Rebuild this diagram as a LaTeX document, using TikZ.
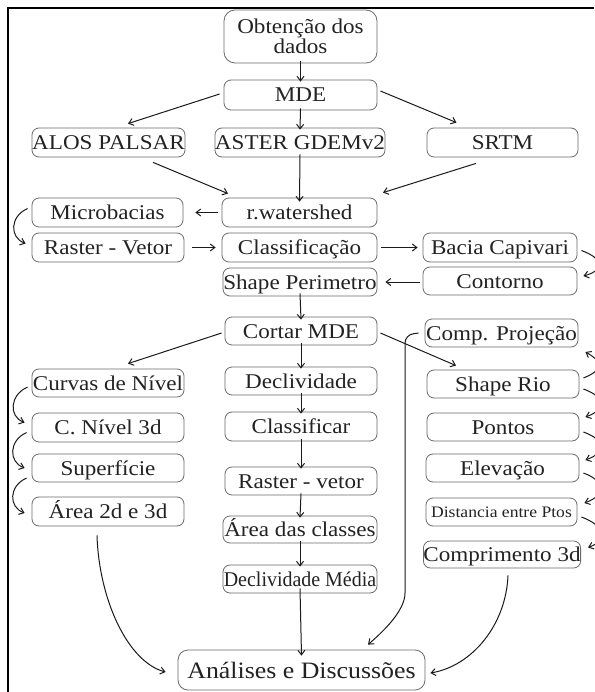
\documentclass[tikz,border=0pt]{standalone}
\usepackage{fontspec}
\setmainfont[FakeStretch=1.1]{Liberation Serif}
\newfontfamily\condfont[FakeStretch=0.95]{Liberation Serif}
\usetikzlibrary{arrows.meta}
\definecolor{boxc}{HTML}{6A6A6A}
\definecolor{txtc}{HTML}{222222}
\definecolor{arrc}{HTML}{1A1A1A}
\begin{document}
\begin{tikzpicture}[x=1pt,y=-1pt,
  box/.style={draw=boxc, line width=0.8pt, rounded corners=7pt, minimum width=153pt,
    minimum height=29pt, inner sep=0pt, text=txtc, font=\fontsize{21}{21}\selectfont,
    text height=14pt, text depth=0pt},
  arr/.style={draw=arrc, line width=1pt, -{Straight Barb[length=4.5pt,width=7pt]}},
]
\useasboundingbox (0,0) rectangle (594,692);
\draw[line width=1.6pt] (8,692) -- (8,8) -- (594,8);

\node[box, rounded corners=11pt, minimum height=53pt, text height=, text depth=, align=center,
  font=\fontsize{21}{18.5}\selectfont] (obt) at (300.5,36.5) {Obtenção dos\\dados};
\node[box, minimum height=30pt] (mde) at (300.5,95) {MDE};
\node[box, minimum width=154pt] (aster) at (300,142.5) {ASTER GDEMv2};
\node[box] (alos) at (108.5,142.5) {ALOS PALSAR};
\node[box, minimum width=151pt] (srtm) at (502.5,142.5) {SRTM};
\node[box, minimum width=155pt] (rws) at (299.5,212.5) {r.watershed};
\node[box, minimum width=151pt] (micro) at (107.5,212.5) {Microbacias};
\node[box, minimum width=152pt] (rv) at (108,247.5) {Raster - Vetor};
\node[box, minimum width=155pt] (class) at (299.5,247.5) {Classificação};
\node[box, minimum width=154pt] (bacia) at (500,247.5) {Bacia Capivari};
\node[box, minimum width=154pt, minimum height=28pt] (shapeper) at (300,282) {Shape Perimetro};
\node[box, minimum width=154pt, minimum height=28pt] (contorno) at (500,281) {Contorno};
\node[box, minimum width=152pt, minimum height=28pt] (cortar) at (301,331) {Cortar MDE};
\node[box, minimum height=28pt] (comp) at (501.5,333) {Comp. Projeção};
\node[box, minimum width=152pt, minimum height=28pt] (curvas) at (108,383) {Curvas de Nível};
\node[box, minimum width=152pt, minimum height=28pt] (decl) at (301,381) {Declividade};
\node[box, minimum width=152pt, minimum height=28pt] (shaperio) at (503,384) {Shape Rio};
\node[box, minimum width=152pt] (cnivel) at (108,427.5) {C. Nível 3d};
\node[box, minimum width=152pt] (classif) at (301,426.5) {Classificar};
\node[box, minimum width=152pt, minimum height=28pt] (pontos) at (503,427) {Pontos};
\node[box, minimum width=152pt, minimum height=28pt] (superf) at (108,468) {Superfície};
\node[box, minimum width=152pt, minimum height=28pt] (rv2) at (301,481) {Raster - vetor};
\node[box, minimum height=28pt] (elev) at (502.5,468) {Elevação};
\node[box, minimum width=152pt] (area2d) at (108,511.5) {Área 2d e 3d};
\node[box, minimum width=154pt, minimum height=27pt] (areacl) at (300,529.5) {Área das classes};
\node[box, minimum width=151pt, minimum height=28pt, font=\fontsize{16}{16}\selectfont,
  text height=11pt] (dist) at (501.5,512) {Distancia entre Ptos};
\node[box, minimum width=154pt, minimum height=28pt, font=\condfont\fontsize{21}{21}\selectfont] (declm) at (300,579) {Declividade Média};
\node[box, minimum width=150pt, minimum height=27pt] (comp3d) at (502,554.5) {Comprimento 3d};
\node[box, minimum width=247pt, minimum height=40pt, rounded corners=10pt,
  font=\fontsize{23.5}{23.5}\selectfont, text height=16pt] (anal) at (301.5,670) {Análises e Discussões};

% straight connectors
\draw[arr] ([yshift=2]obt.south) -- ([yshift=-2]mde.north);
\draw[arr] ([yshift=2]mde.south) -- ([yshift=-2]aster.north);
\draw[arr] ([shift={(-4,-1)}]mde.west) -- ([shift={(19.5,-4)}]alos.north);
\draw[arr] ([shift={(3,-4)}]mde.east) -- ([shift={(-46,-5)}]srtm.north);
\draw[arr] ([shift={(44.5,5)}]alos.south) -- ([shift={(-71.5,-4)}]rws.north);
\draw[arr] ([yshift=3]aster.south) -- ([yshift=-4]rws.north);
\draw[arr] ([shift={(-26.5,6)}]srtm.south) -- ([shift={(83.5,-5)}]rws.north);
\draw[arr] ([xshift=-4]rws.west) -- ([xshift=12]micro.east);
\draw[arr] ([xshift=8]rv.east) -- ([xshift=-6]class.west);
\draw[arr] ([xshift=4]class.east) -- ([xshift=-5]bacia.west);
\draw[arr] ([shift={(-3,1)}]contorno.west) -- ([xshift=8]shapeper.east);
\draw[arr] ([yshift=3]shapeper.south) -- ([yshift=-3]cortar.north);
\draw[arr] ([shift={(-3,2)}]cortar.west) -- ([shift={(20,-5)}]curvas.north);
\draw[arr] ([shift={(3,2)}]cortar.east) -- ([shift={(-47,-4)}]shaperio.north);
\draw[arr] ([yshift=2]cortar.south) -- ([yshift=-2]decl.north);
\draw[arr] ([yshift=2]decl.south) -- ([yshift=-2]classif.north);
\draw[arr] ([yshift=2]classif.south) -- ([yshift=-2]rv2.north);
\draw[arr] ([yshift=2]rv2.south) -- ([yshift=-2]areacl.north);
\draw[arr] ([yshift=2]areacl.south) -- ([yshift=-2]declm.north);
\draw[arr] ([yshift=5]declm.south) -- ([yshift=-6]anal.north);

% left side curved connectors
\draw[arr] ([shift={(-4,-4)}]micro.west) .. controls +(-18,8) and +(-16,-6) .. ([shift={(-6,-4)}]rv.west);
\draw[arr] ([shift={(-4,4)}]curvas.west) .. controls +(-18,8) and +(-16,-6) .. ([shift={(-7,-5)}]cnivel.west);
\draw[arr] ([shift={(-5,5)}]cnivel.west) .. controls +(-18,8) and +(-16,-6) .. ([shift={(-7,0)}]superf.west);
\draw[arr] ([shift={(-5,10)}]superf.west) .. controls +(-18,8) and +(-16,-6) .. ([shift={(-7,1.5)}]area2d.west);

% right side curved connectors
\draw[arr] ([shift={(4,3)}]bacia.east) .. controls +(22,8) and +(22,-6) .. ([shift={(6,-5)}]contorno.east);
\draw[arr] ([shift={(4,-6)}]shaperio.east) .. controls +(20,-8) and +(18,10) .. ([shift={(7,19)}]comp.east);
\draw[arr] ([shift={(4,5)}]shaperio.east) .. controls +(22,8) and +(22,-8) .. ([shift={(6,-10)}]pontos.east);
\draw[arr] ([shift={(4,5)}]pontos.east) .. controls +(22,8) and +(22,-8) .. ([shift={(6,-8)}]elev.east);
\draw[arr] ([shift={(4,5)}]elev.east) .. controls +(22,8) and +(22,-8) .. ([shift={(7,-9)}]dist.east);
\draw[arr] ([shift={(4,5)}]dist.east) .. controls +(22,8) and +(22,-8) .. ([shift={(7,-7)}]comp3d.east);

% long connectors to the final box
\draw[arr, rounded corners=8pt] ([xshift=-6]comp.west) -- (405,335) -- (405,585)
  .. controls (405,610) and (385,630) .. ([shift={(66.5,-5)}]anal.north);
\draw[arr] ([shift={(-11,9)}]area2d.south) .. controls (99,600) and (128,662) .. ([shift={(-12,2)}]anal.west);
\draw[arr] ([shift={(6,7)}]comp3d.south) .. controls (506,625) and (472,666) .. ([shift={(5,3)}]anal.east);
\end{tikzpicture}
\end{document}
